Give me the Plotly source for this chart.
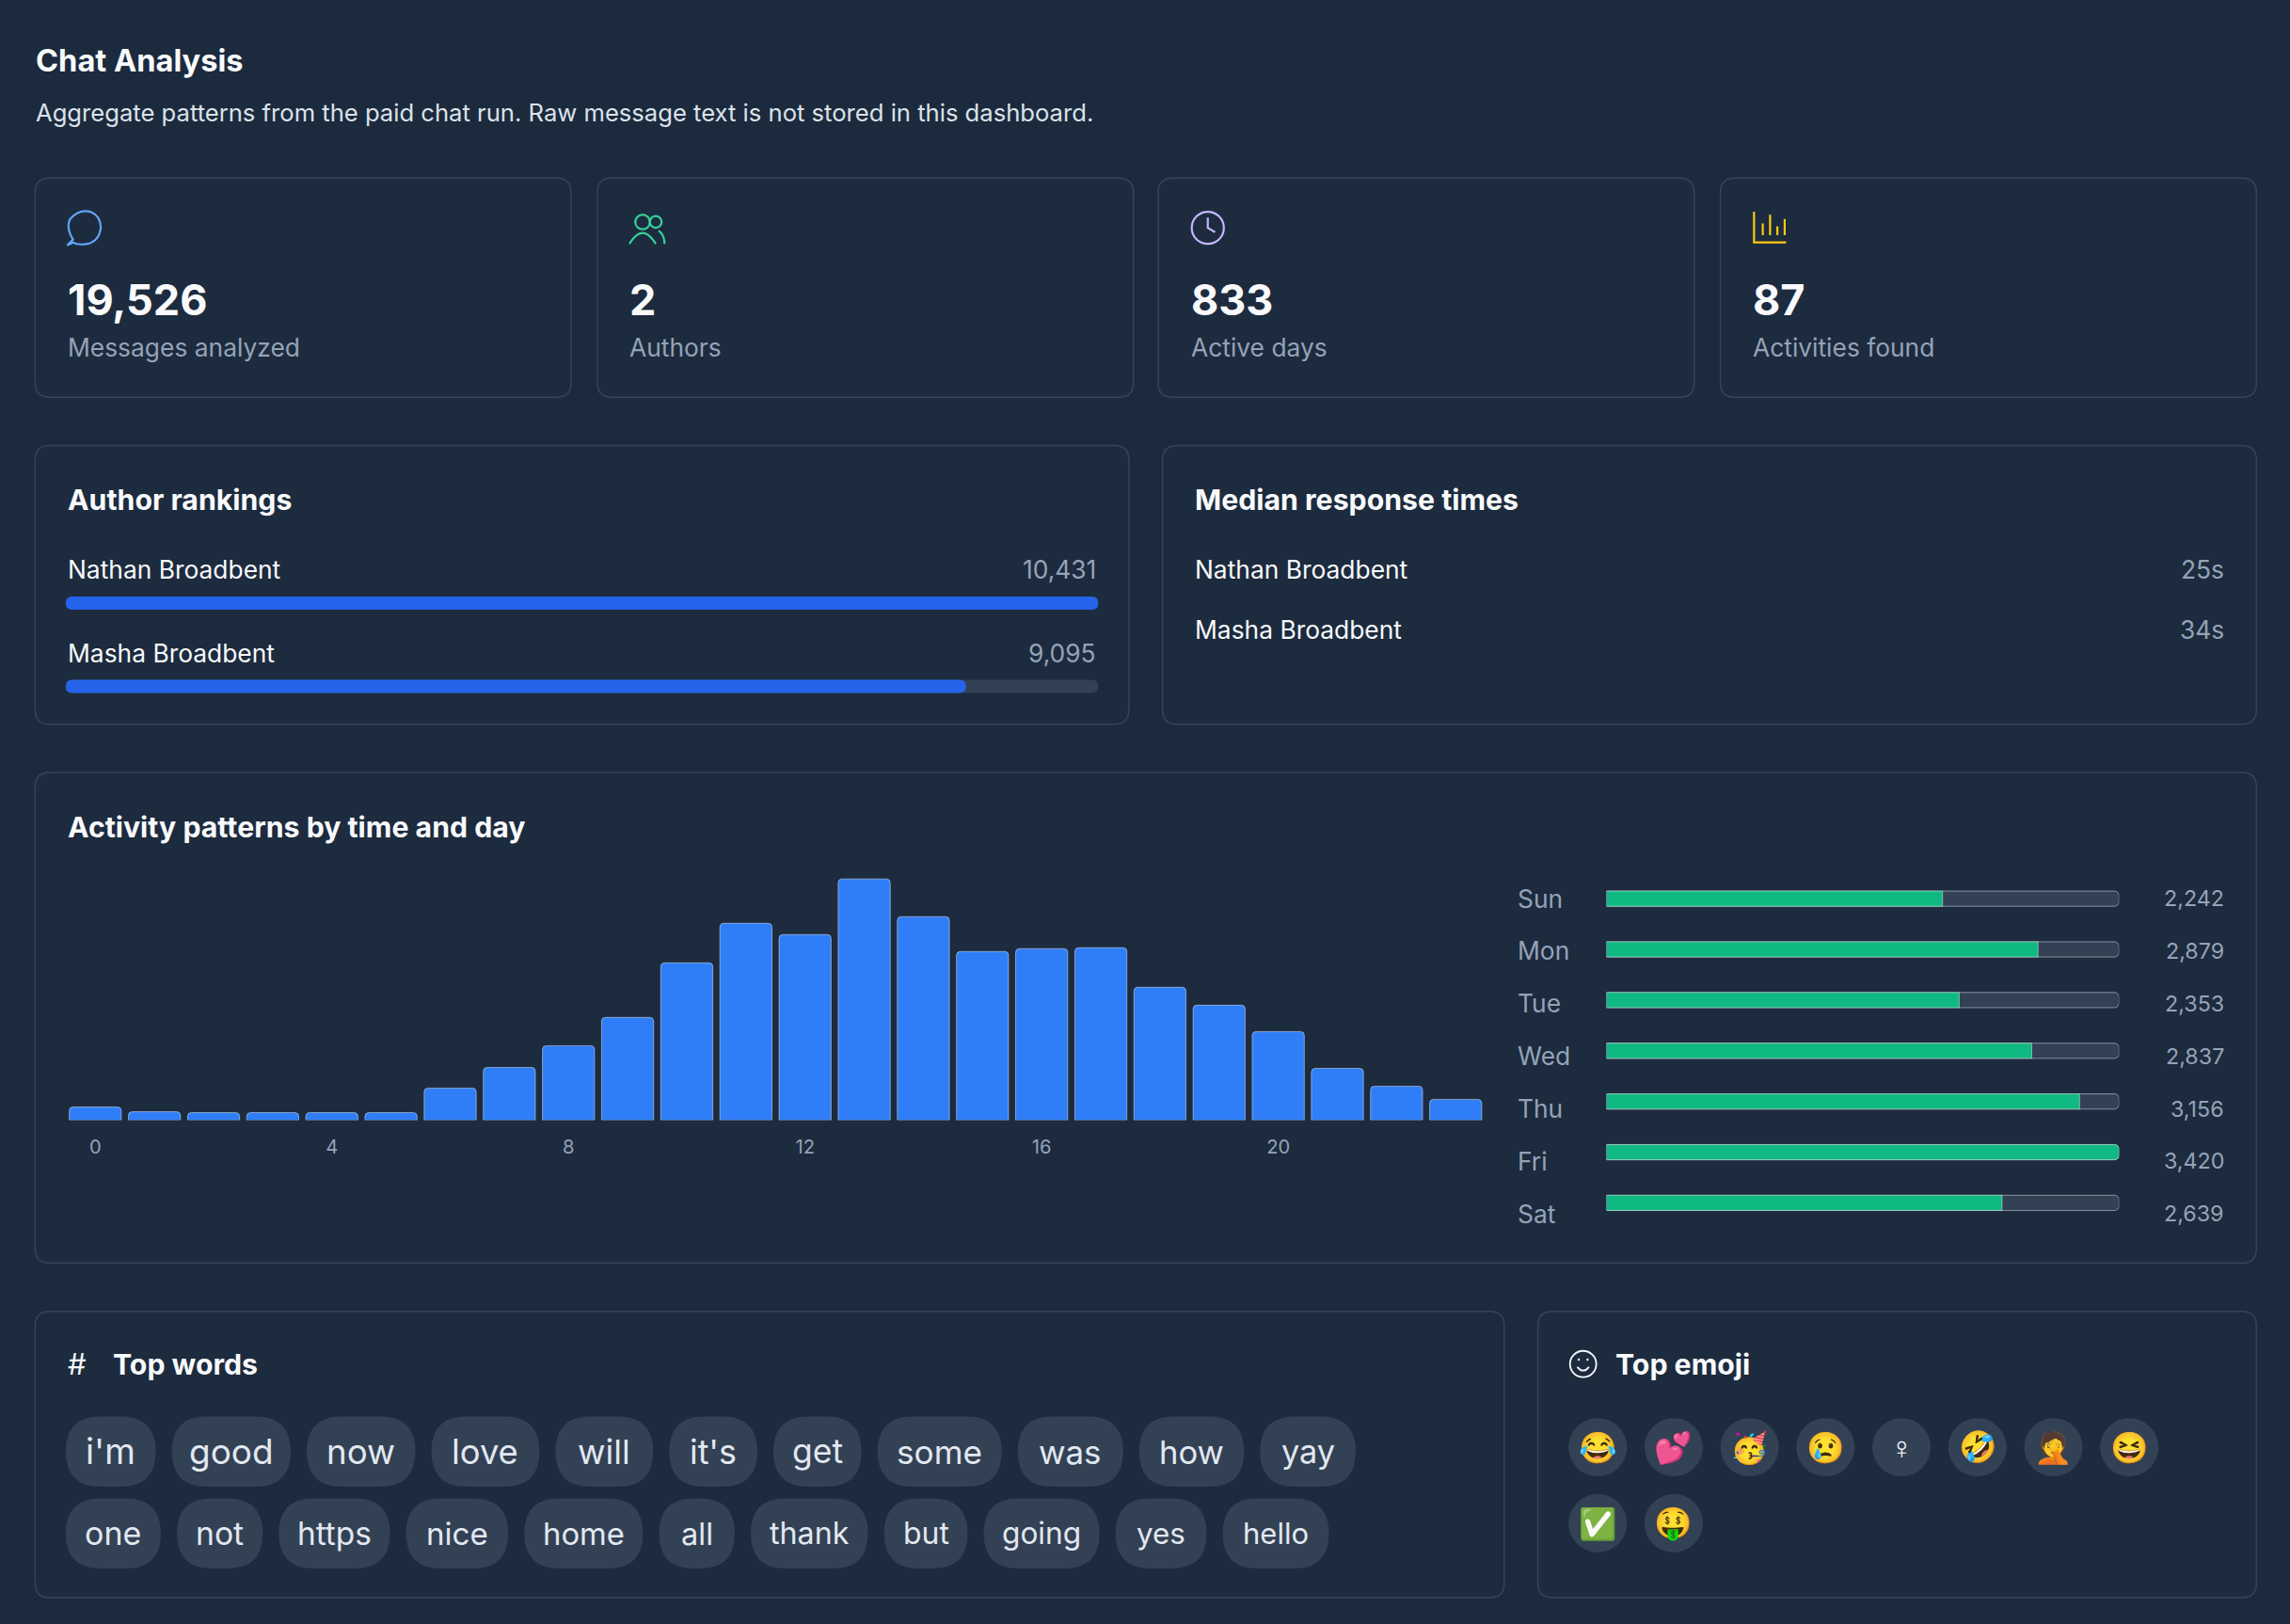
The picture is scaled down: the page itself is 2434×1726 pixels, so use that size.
import plotly.graph_objects as go

# Data
stat_values = ['19,526', '2', '833', '87']
stat_labels = ['Messages analyzed', 'Authors', 'Active days', 'Activities found']
authors = ['Nathan Broadbent', 'Masha Broadbent']
author_messages = [10431, 9095]
response_times = ['25s', '34s']
hours = list(range(24))
hour_counts = [114, 73, 65, 65, 65, 65, 278, 457, 645, 890, 1363, 1706,
               1608, 2090, 1763, 1461, 1486, 1494, 1151, 996, 767, 449, 294, 180]
hour_ticks = [0, 4, 8, 12, 16, 20]
days = ['Sun', 'Mon', 'Tue', 'Wed', 'Thu', 'Fri', 'Sat']
day_counts = [2242, 2879, 2353, 2837, 3156, 3420, 2639]
top_words = ["i'm", 'good', 'now', 'love', 'will', "it's", 'get', 'some', 'was', 'how', 'yay',
             'one', 'not', 'https', 'nice', 'home', 'all', 'thank', 'but', 'going', 'yes', 'hello']
top_emoji = ['😂', '💕', '🥳', '😢', '♀', '🤣', '🤦', '😆', '✅', '🤑']

W, H = 2434, 1726
BW, BH = 1568.0, 1112.0
S = W / BW
BG = '#1c2a3d'
CARD = '#1d2b3e'
BORDER = '#35445a'
TRACK = '#334155'
WHITE = '#f8fafc'
MUTED = '#94a3b8'
FONT = 'Inter'


def px(x):
    return x / BW


def py(y):
    return 1 - y / BH


shapes = []
annotations = []


def rounded(x0, y0, x1, y1, r, fill, line):
    rx, ry = r / BW, r / BH
    a0, a1, b0, b1 = px(x0), px(x1), py(y0), py(y1)
    path = (f'M{a0+rx},{b0} L{a1-rx},{b0} Q{a1},{b0} {a1},{b0-ry} L{a1},{b1+ry} '
            f'Q{a1},{b1} {a1-rx},{b1} L{a0+rx},{b1} Q{a0},{b1} {a0},{b1+ry} '
            f'L{a0},{b0-ry} Q{a0},{b0} {a0+rx},{b0} Z')
    shapes.append(dict(type='path', xref='paper', yref='paper', path=path,
                       fillcolor=fill, line=line, layer='below'))


def card(x0, y0, x1, y1):
    rounded(x0, y0, x1, y1, 10, CARD, dict(color=BORDER, width=1.5))


def pill(x0, x1, yc, h, color):
    rounded(x0, yc - h / 2, x1, yc + h / 2, h / 2, color, dict(width=0))


def text(x, y, t, size, color=WHITE, bold=False, anchor='left'):
    if bold:
        t = f'<b>{t}</b>'
    annotations.append(dict(x=px(x), y=py(y), xref='paper', yref='paper', text=t,
                            showarrow=False, xanchor=anchor, yanchor='middle',
                            font=dict(family=FONT, size=size * S, color=color)))


def text_width(w, size):
    em = 0
    for ch in w:
        if ch in "iltj'fr":
            em += 0.27
        elif ch in 'mw':
            em += 0.82
        else:
            em += 0.55
    return em * size


# Header
text(23, 41, 'Chat Analysis', 21, bold=True)
text(23, 77, 'Aggregate patterns from the paid chat run. Raw message text is not stored in this dashboard.',
     16.5, color='#dbe2ea')

# Stat cards
stat_x = [24, 409, 793, 1178]
icon_colors = ['#60a5fa', '#34d399', '#c4b5fd', '#facc15']
for i, (v, lab) in enumerate(zip(stat_values, stat_labels)):
    x0 = stat_x[i]
    card(x0, 122, x0 + 367, 272)
    text(x0 + 21, 205, v, 29, bold=True)
    text(x0 + 21, 238, lab, 17, color=MUTED)
    cx, cy, c = x0 + 34, 156, icon_colors[i]
    ln = dict(color=c, width=2.2)
    if i == 0:
        shapes.append(dict(type='path', xref='paper', yref='paper', line=ln,
                           path=(f'M{px(cx-8)},{py(cy+8)} Q{px(cx-13)},{py(cy)} {px(cx-10)},{py(cy-6)} '
                                 f'Q{px(cx-4)},{py(cy-13)} {px(cx+4)},{py(cy-11)} '
                                 f'Q{px(cx+11)},{py(cy-8)} {px(cx+11)},{py(cy)} '
                                 f'Q{px(cx+10)},{py(cy+9)} {px(cx+2)},{py(cy+11)} '
                                 f'Q{px(cx-5)},{py(cy+12)} {px(cx-8)},{py(cy+10)} '
                                 f'L{px(cx-12)},{py(cy+12)} Z')))
    elif i == 1:
        for (ox, rr) in [(-3, 5), (6, 4)]:
            shapes.append(dict(type='circle', xref='paper', yref='paper', x0=px(cx + ox - rr), x1=px(cx + ox + rr),
                               y0=py(cy - 4 + rr), y1=py(cy - 4 - rr), line=ln))
        shapes.append(dict(type='path', xref='paper', yref='paper', line=ln,
                           path=f'M{px(cx-12)},{py(cy+11)} Q{px(cx-3)},{py(cy-4)} {px(cx+6)},{py(cy+11)}'))
        shapes.append(dict(type='path', xref='paper', yref='paper', line=ln,
                           path=f'M{px(cx+8)},{py(cy+2)} Q{px(cx+12)},{py(cy+5)} {px(cx+12)},{py(cy+11)}'))
    elif i == 2:
        shapes.append(dict(type='circle', xref='paper', yref='paper', x0=px(cx - 11), x1=px(cx + 11),
                           y0=py(cy + 11), y1=py(cy - 11), line=ln))
        shapes.append(dict(type='path', xref='paper', yref='paper', line=ln,
                           path=f'M{px(cx)},{py(cy-7)} L{px(cx)},{py(cy)} L{px(cx+5)},{py(cy+3)}'))
    else:
        shapes.append(dict(type='path', xref='paper', yref='paper', line=ln,
                           path=f'M{px(cx-11)},{py(cy-11)} L{px(cx-11)},{py(cy+10)} L{px(cx+11)},{py(cy+10)}'))
        for ox, top in [(-5, -3), (0, -9), (5, -1), (10, -6)]:
            shapes.append(dict(type='line', xref='paper', yref='paper', line=ln,
                               x0=px(cx + ox), x1=px(cx + ox), y0=py(cy + 5), y1=py(cy + top)))

# Author rankings
card(24, 305, 773, 496)
text(45, 342, 'Author rankings', 19.5, bold=True)
top = max(author_messages)
for i, (name, n) in enumerate(zip(authors, author_messages)):
    y = 390 + 57 * i
    text(45, y, name, 17)
    text(752, y, f'{n:,}', 17, color=MUTED, anchor='right')
    pill(45, 752, y + 23, 9, TRACK)
    pill(45, 45 + 707 * n / top, y + 23, 9, '#2563eb')

# Median response
card(796, 305, 1545, 496)
text(817, 342, 'Median response times', 19.5, bold=True)
for i, (name, t) in enumerate(zip(authors, response_times)):
    y = 390 + 41 * i
    text(817, y, name, 17)
    text(1524, y, t, 17, color=MUTED, anchor='right')

# Activity
card(24, 529, 1545, 865)
text(45, 566, 'Activity patterns by time and day', 19.5, bold=True)
for i, (d, n) in enumerate(zip(days, day_counts)):
    y = 615 + 36 * i
    text(1038, y, d, 17, color=MUTED)
    text(1524, y, f'{n:,}', 15, color=MUTED, anchor='right')

fig = go.Figure()
fig.add_trace(go.Bar(x=hours, y=hour_counts, marker=dict(color='#2f7ef7', cornerradius=4),
                     showlegend=False, hoverinfo='skip'))
fig.add_trace(go.Bar(x=[max(day_counts)] * len(days), y=days, orientation='h',
                     marker=dict(color=TRACK, cornerradius=5), xaxis='x2', yaxis='y2',
                     showlegend=False, hoverinfo='skip', width=0.3))
fig.add_trace(go.Bar(x=day_counts, y=days, orientation='h',
                     marker=dict(color='#10b981', cornerradius=5), xaxis='x2', yaxis='y2',
                     showlegend=False, hoverinfo='skip', width=0.3))

# Top words
card(24, 898, 1030, 1094)
text(45, 934, '#', 20, color=WHITE)
text(76, 934, 'Top words', 19.5, bold=True)
row_y = [994, 1050]
x = 45
for k, w in enumerate(top_words):
    row = k // 11
    if k % 11 == 0:
        x = 45
    size = 24 - 4 * k / (len(top_words) - 1)
    width = text_width(w, size) + 29
    pill(x, x + width, row_y[row], 48, TRACK)
    text(x + width / 2, row_y[row], w, size, color='#e2e8f0', anchor='center')
    x += width + 11

# Top emoji
card(1053, 898, 1545, 1094)
shapes.append(dict(type='circle', xref='paper', yref='paper', x0=px(1075), x1=px(1093),
                   y0=py(943), y1=py(925), line=dict(color=WHITE, width=1.8)))
shapes.append(dict(type='path', xref='paper', yref='paper', line=dict(color=WHITE, width=1.8),
                   path=f'M{px(1080)},{py(936)} Q{px(1084)},{py(941)} {px(1088)},{py(936)}'))
for ex in (1081, 1087):
    shapes.append(dict(type='circle', xref='paper', yref='paper', x0=px(ex - 0.8), x1=px(ex + 0.8),
                       y0=py(931.8), y1=py(930.2), fillcolor=WHITE, line=dict(width=0)))
text(1105, 934, 'Top emoji', 19.5, bold=True)
for k, e in enumerate(top_emoji):
    cx = 1094 + 52 * (k % 8)
    cy = 991 + 52 * (k // 8)
    shapes.append(dict(type='circle', xref='paper', yref='paper', x0=px(cx - 20), x1=px(cx + 20),
                       y0=py(cy + 20), y1=py(cy - 20), fillcolor=TRACK, line=dict(width=0), layer='below'))
    text(cx, cy, e, 21, anchor='center')

fig.update_layout(
    width=W, height=H, margin=dict(l=0, r=0, t=0, b=0),
    paper_bgcolor=BG, plot_bgcolor='rgba(0,0,0,0)',
    barmode='overlay', bargap=0.12,
    font=dict(family=FONT, color=MUTED),
    shapes=shapes, annotations=annotations,
    xaxis=dict(domain=[px(45), px(1017)], range=[-0.5, 23.5], tickvals=hour_ticks,
               showgrid=False, zeroline=False, showline=False, ticks='', ticklabelstandoff=14,
               tickfont=dict(size=13 * S, color=MUTED), fixedrange=True),
    yaxis=dict(domain=[py(767), py(601)], range=[0, max(hour_counts) * 1.005], visible=False),
    xaxis2=dict(domain=[px(1100), px(1451)], range=[0, max(day_counts)], visible=False, anchor='y2'),
    yaxis2=dict(domain=[py(841), py(598)], autorange='reversed', visible=False, anchor='x2'),
)
fig.write_html('out.html', config={'displayModeBar': False},
               post_script="document.body.style.margin='0';document.body.style.background='#1c2a3d';")
